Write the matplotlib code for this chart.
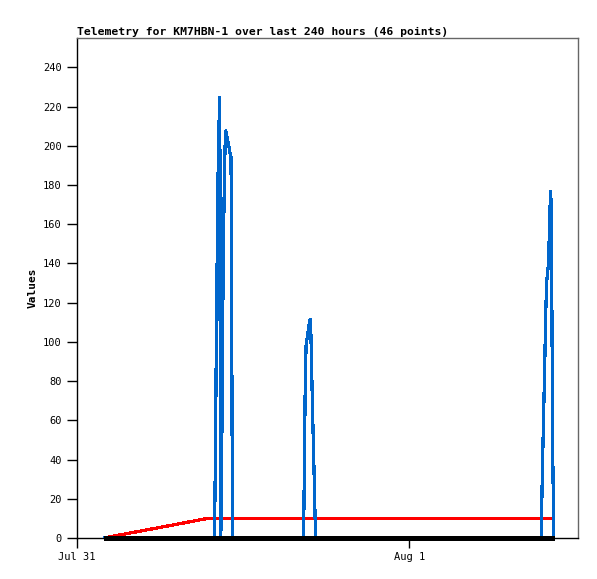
import matplotlib
matplotlib.use('Agg')
import matplotlib.pyplot as plt

# hours since Jul 31 00:00
blue_t = [1.93,
          9.93, 9.97, 10.03, 10.08, 10.15, 10.22, 10.32, 10.34, 10.39, 10.43, 10.48, 10.52,
          10.57, 10.66, 10.73, 10.80, 10.87, 10.97, 11.04, 11.13, 11.16, 11.21, 11.26,
          16.37, 16.41, 16.48, 16.55, 16.63, 16.71, 16.79, 16.87, 16.91, 16.98, 17.05,
          17.13, 17.20, 17.26,
          33.54, 33.57, 33.64, 33.72, 33.80, 33.87, 33.94, 34.01, 34.08, 34.14, 34.22,
          34.27, 34.31, 34.38, 34.45]
blue_v = [0,
          0, 22, 67, 112, 157, 202, 225, 112, 0, 21, 63, 104,
          145, 188, 208, 206, 203, 200, 197, 194, 145, 48, 0,
          0, 24, 72, 98, 102, 106, 110, 112, 101, 78, 56,
          33, 11, 0,
          0, 13, 39, 64, 90, 115, 131, 136, 141, 160, 177,
          168, 120, 40, 0]

red_t = [1.93, 9.45, 34.39]
red_v = [0, 10, 10]

black_t = [1.93, 34.45]
black_v = [0, 0]

tick_pos = [0, 24]
tick_labels = ['Jul 31', 'Aug 1']

font = 'DejaVu Sans Mono'

fig = plt.figure(figsize=(5.97, 5.79), dpi=100)
ax = fig.add_axes([77 / 597, 41 / 579, 501 / 597, 500 / 579])

ax.plot(red_t, red_v, color='#ff0000', lw=1.6, antialiased=False, zorder=2,
        solid_capstyle='butt')
ax.plot(blue_t, blue_v, color='#0066cc', lw=1.6, antialiased=False, zorder=3,
        solid_capstyle='butt', solid_joinstyle='miter')
ax.plot(black_t, black_v, color='black', lw=2.2, antialiased=False, zorder=5,
        clip_on=False, solid_capstyle='butt')

ax.set_xlim(0, 36.2)
ax.set_ylim(0, 255)
ax.set_yticks(range(0, 241, 20))
ax.set_xticks(tick_pos)
ax.set_xticklabels(tick_labels)

for lab in ax.get_xticklabels() + ax.get_yticklabels():
    lab.set_family(font)
    lab.set_fontsize(7.5)
ax.tick_params(direction='out', length=7, width=1, pad=4, colors='black')
ax.tick_params(axis='x', pad=3)

for s in ['top', 'right']:
    ax.spines[s].set_color('#666666')
    ax.spines[s].set_linewidth(1)
for s in ['left', 'bottom']:
    ax.spines[s].set_color('black')
    ax.spines[s].set_linewidth(1)

ax.set_ylabel('Values', family=font, fontsize=8, fontweight='bold', labelpad=4)
ax.set_title('Telemetry for KM7HBN-1 over last 240 hours (46 points)', loc='left',
             family=font, fontsize=8.2, fontweight='bold', pad=2)

fig.savefig('out.png', dpi=100)
